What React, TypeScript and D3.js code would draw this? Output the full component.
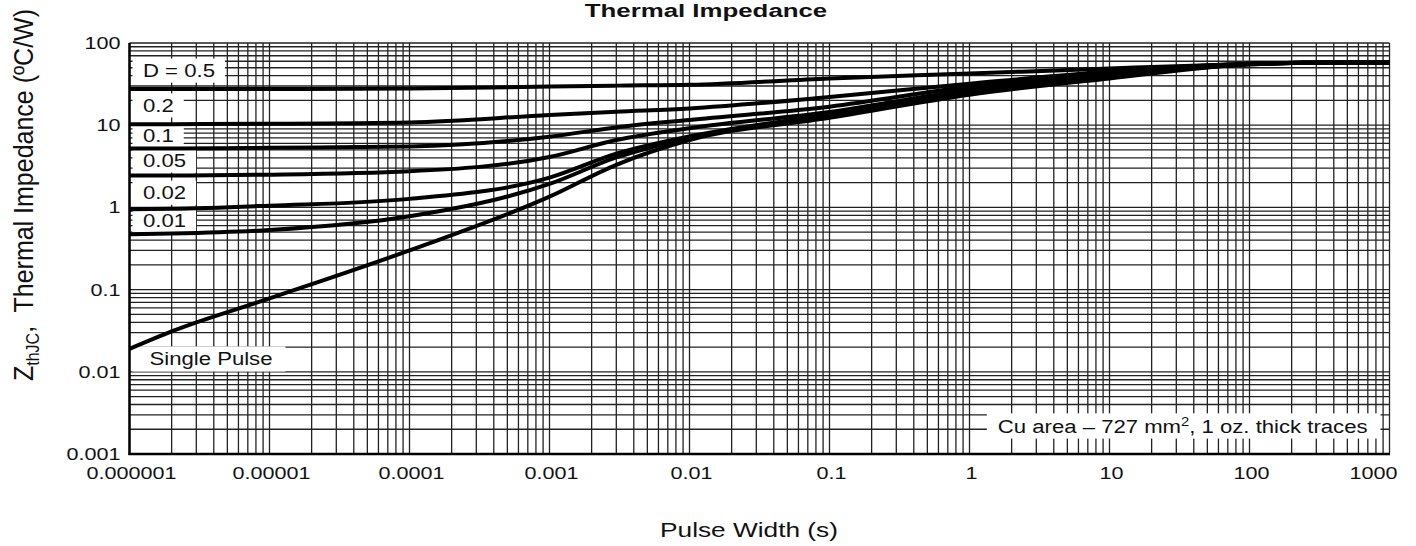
import React, { useEffect, useRef } from 'react';
import * as d3 from 'd3';

const W = 1416;
const H = 546;

// Pulse width (s) sample points shared by every curve
const pulseWidth = [1e-6, 2e-6, 1e-5, 1e-4, 1e-3, 3e-3, 1e-2, 0.1, 1, 10, 100, 400, 1000];

// Z_thJC (°C/W) per duty cycle
const zD05 = [27.5, 27.5, 27.5, 28, 29.5, 30.3, 31, 37, 42.5, 49, 55.5, 58, 58];
const zD02 = [10.3, 10.3, 10.4, 10.8, 13.3, 14.6, 16, 22, 32, 45, 56, 58, 58];
const zD01 = [5.2, 5.2, 5.3, 5.5, 7.25, 9.4, 11.6, 16.8, 29.5, 43, 56, 58, 58];
const zD005 = [2.45, 2.45, 2.5, 2.75, 4.1, 6.6, 9.2, 14.5, 27, 41, 55.5, 58, 58];
const zD002 = [0.95, 0.96, 1.05, 1.27, 2.3, 4.5, 7.3, 13.5, 25.5, 40, 55, 58, 58];
const zD001 = [0.47, 0.48, 0.53, 0.78, 1.93, 4.05, 7.0, 13, 25, 39, 55, 58, 58];
const zSingle = [0.019, 0.031, 0.078, 0.3, 1.35, 3.3, 6.6, 12.3, 23.5, 37, 55, 58, 58];

const seriesValues = [zD05, zD02, zD01, zD005, zD002, zD001, zSingle];
const seriesLabels = ['D = 0.5', '0.2', '0.1', '0.05', '0.02', '0.01', 'Single Pulse'];
// label baseline level (°C/W) for each curve label
const labelLevels = [38.5, 14.5, 6.25, 3.1, 1.26, 0.58, 0.0121];

const xTickValues = [1e-6, 1e-5, 1e-4, 1e-3, 1e-2, 0.1, 1, 10, 100, 1000];
const xTickLabels = ['0.000001', '0.00001', '0.0001', '0.001', '0.01', '0.1', '1', '10', '100', '1000'];
const yTickValues = [0.001, 0.01, 0.1, 1, 10, 100];
const yTickLabels = ['0.001', '0.01', '0.1', '1', '10', '100'];

const noteLevel = 0.0018;
const FONT = "'Liberation Sans', Arial, Helvetica, sans-serif";

export default function App() {
  const ref = useRef<SVGSVGElement | null>(null);

  useEffect(() => {
    const svg = d3.select(ref.current);
    svg.selectAll('*').remove();

    const x = d3.scaleLog().domain([1e-6, 1000]).range([129.5, 1389.5]);
    const y = d3.scaleLog().domain([0.001, 100]).range([454, 43]);
    const [x0, x1] = x.range();
    const [y0, y1] = y.range();

    svg.append('rect').attr('width', W).attr('height', H).attr('fill', '#fff');

    // grid
    const gx: number[] = [];
    for (let e = -6; e <= 2; e++) for (let k = 1; k <= 9; k++) gx.push(k * Math.pow(10, e));
    gx.push(1000);
    const gy: number[] = [];
    for (let e = -3; e <= 1; e++) for (let k = 1; k <= 9; k++) gy.push(k * Math.pow(10, e));
    gy.push(100);

    const grid = svg.append('g').attr('stroke', '#222').attr('stroke-width', 1.3);
    grid.selectAll('line.v').data(gx).join('line').attr('class', 'v')
      .attr('x1', d => x(d)).attr('x2', d => x(d)).attr('y1', y0).attr('y2', y1);
    grid.selectAll('line.h').data(gy).join('line').attr('class', 'h')
      .attr('y1', d => y(d)).attr('y2', d => y(d)).attr('x1', x0).attr('x2', x1);

    // label boxes + text
    const addLabel = (
      parent: d3.Selection<SVGGElement, unknown, null, undefined>,
      tx: number, ty: number, sx: number, size: number, anchor: string,
      build: (t: d3.Selection<SVGTextElement, unknown, null, undefined>) => void,
      boxLeft: number | null, padL: number, padR: number, padT: number, padB: number
    ) => {
      const g = parent.append('g').attr('transform', `translate(${tx},${ty}) scale(${sx},1)`);
      const rect = g.append('rect').attr('fill', '#fff');
      const t = g.append('text').attr('font-family', FONT).attr('font-size', size)
        .attr('text-anchor', anchor).attr('fill', '#111');
      build(t);
      const bb = (t.node() as SVGTextElement).getBBox();
      const left = boxLeft !== null ? (boxLeft - tx) / sx : bb.x - padL / sx;
      const right = bb.x + bb.width + padR / sx;
      rect.attr('x', left).attr('width', right - left)
        .attr('y', bb.y - padT).attr('height', bb.height + padT + padB);
    };

    const labels = svg.append('g');
    seriesLabels.forEach((lab, i) => {
      const single = i === seriesLabels.length - 1;
      addLabel(labels, x0 + (single ? 20 : 13.5), y(labelLevels[i]), 1.23, 18, 'start',
        t => t.text(lab), x0 + 3, 0, single ? 13 : 10, 2.5, single ? 3 : 2);
    });
    addLabel(labels, x1 - 22, y(noteLevel), 1.23, 18, 'end', t => {
      t.append('tspan').text('Cu area \u2013 727 mm');
      t.append('tspan').attr('font-size', 12).attr('dy', -7).text('2');
      t.append('tspan').attr('dy', 7).text(', 1 oz. thick traces');
    }, null, 11, 13, 2, 2);

    // curves
    const line = d3.line<[number, number]>()
      .x(d => x(d[0])).y(d => y(d[1])).curve(d3.curveMonotoneX);
    svg.append('g').selectAll('path').data(seriesValues).join('path')
      .attr('d', vals => line(pulseWidth.map((p, j) => [p, vals[j]] as [number, number])))
      .attr('fill', 'none').attr('stroke', '#000').attr('stroke-width', 4)
      .attr('stroke-linejoin', 'round').attr('stroke-linecap', 'butt');

    // axes
    svg.append('line').attr('x1', x0).attr('x2', x0).attr('y1', y0 + 1).attr('y2', y1)
      .attr('stroke', '#000').attr('stroke-width', 2.5);
    svg.append('line').attr('x1', x0 - 1).attr('x2', x1 + 0.5).attr('y1', y0).attr('y2', y0)
      .attr('stroke', '#000').attr('stroke-width', 2.5);

    // tick labels
    const tl = svg.append('g').attr('font-family', FONT).attr('font-size', 17).attr('fill', '#111');
    yTickValues.forEach((v, i) => {
      tl.append('text').attr('transform', `translate(${x0 - 9},${y(v) + 6}) scale(1.27,1)`)
        .attr('text-anchor', 'end').text(yTickLabels[i]);
    });
    xTickValues.forEach((v, i) => {
      const last = i === xTickValues.length - 1;
      tl.append('text').attr('transform', `translate(${last ? x(v) + 8 : x(v) + 2},${y0 + 25}) scale(1.27,1)`)
        .attr('text-anchor', last ? 'end' : 'middle').text(xTickLabels[i]);
    });

    // titles
    svg.append('text').attr('transform', `translate(706,16.5) scale(1.36,1)`)
      .attr('text-anchor', 'middle').attr('font-family', FONT).attr('font-weight', 'bold')
      .attr('font-size', 19).attr('fill', '#111').text('Thermal Impedance');
    svg.append('text').attr('transform', `translate(749,537) scale(1.25,1)`)
      .attr('text-anchor', 'middle').attr('font-family', FONT)
      .attr('font-size', 21).attr('fill', '#111').text('Pulse Width (s)');
    const yt = svg.append('text').attr('transform', `translate(33,195) rotate(-90) scale(1,1.1)`)
      .attr('text-anchor', 'middle').attr('font-family', FONT)
      .attr('font-size', 25).attr('fill', '#111');
    yt.append('tspan').text('Z');
    yt.append('tspan').attr('font-size', 16).attr('dy', 5).text('thJC');
    yt.append('tspan').attr('dy', -5).text(',\u00a0 Thermal Impedance (\u00baC/W)');
  }, []);

  return (
    <svg ref={ref} width={W} height={H}
      style={{ position: 'absolute', left: 0, top: 0, display: 'block' }} />
  );
}
